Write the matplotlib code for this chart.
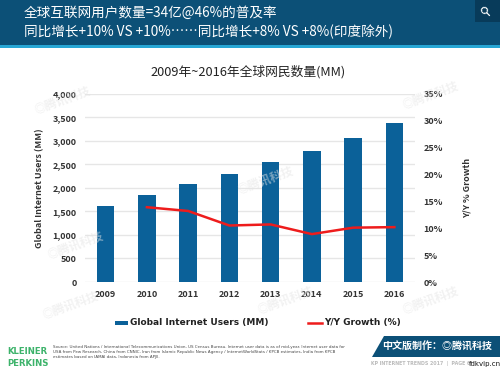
import matplotlib
matplotlib.use("Agg")
import matplotlib.pyplot as plt
from matplotlib.patches import Rectangle, Polygon
from matplotlib.lines import Line2D
import numpy as np

plt.rcParams['font.family'] = ['Noto Sans CJK SC', 'DejaVu Sans']

years = ['2009', '2010', '2011', '2012', '2013', '2014', '2015', '2016']
users = [1610, 1840, 2080, 2300, 2550, 2780, 3050, 3370]
growth_years = ['2010', '2011', '2012', '2013', '2014', '2015', '2016']
growth = [13.9, 13.2, 10.5, 10.7, 8.9, 10.1, 10.2]
yticks_left = [0, 500, 1000, 1500, 2000, 2500, 3000, 3500, 4000]
yticks_right = [0, 5, 10, 15, 20, 25, 30, 35]

header1 = '全球互联网用户数量=34亿@46%的普及率'
header2 = '同比增长+10% VS +10%……同比增长+8% VS +8%(印度除外)'
chart_title = '2009年~2016年全球网民数量(MM)'

W, H = 500, 370
fig = plt.figure(figsize=(5, 3.7), dpi=100)

def fx(x): return x / W
def fy(y): return 1 - y / H

# Header band
fig.patches.append(Rectangle((0, fy(45)), 1, 45 / H, transform=fig.transFigure,
                             facecolor='#0c5077', edgecolor='none', zorder=0))
fig.patches.append(Rectangle((0, fy(48)), 1, 3 / H, transform=fig.transFigure,
                             facecolor='#27a6d4', edgecolor='none', zorder=0))
fig.patches.append(Rectangle((fx(475), fy(22)), 25 / W, 22 / H, transform=fig.transFigure,
                             facecolor='#083b5a', edgecolor='none', zorder=1))
fig.text(fx(486), fy(11), '⚲', color='white', fontsize=9, ha='center', va='center',
         family='DejaVu Sans', fontweight='bold', rotation=45)
fig.text(fx(24), fy(13), header1, color='white', fontsize=9.8, ha='left', va='center')
fig.text(fx(24), fy(32), header2, color='white', fontsize=9.8, ha='left', va='center')

# Main axes
ax = fig.add_axes([fx(85), fy(282), 330 / W, (282 - 93.7) / H])
x = np.arange(len(years))
ax.bar(x, users, width=0.42, color='#0b6199', zorder=3)
ax.set_ylim(0, 4000)
ax.set_xlim(-0.5, len(years) - 0.5)
ax.set_yticks(yticks_left)
ax.set_yticklabels([f'{v:,}' for v in yticks_left])
ax.set_xticks(x)
ax.set_xticklabels(years)
ax.grid(axis='y', color='#e6e6e6', linewidth=1, zorder=0)
for s in ax.spines.values():
    s.set_visible(False)
ax.tick_params(length=0, labelsize=6.5, colors='#333333', pad=6)
for lab in ax.get_xticklabels() + ax.get_yticklabels():
    lab.set_fontweight('bold')
ax.set_ylabel('Global Internet Users (MM)', fontsize=6.5, fontweight='bold',
              color='#333333', labelpad=6)

ax2 = ax.twinx()
gx = [years.index(y) for y in growth_years]
ax2.plot(gx, growth, color='#ee1c1c', linewidth=1.8, zorder=4)
ax2.set_ylim(0, 35)
ax2.set_yticks(yticks_right)
ax2.set_yticklabels([f'{v}%' for v in yticks_right])
for s in ax2.spines.values():
    s.set_visible(False)
ax2.tick_params(length=0, labelsize=6.5, colors='#333333', pad=6)
for lab in ax2.get_yticklabels():
    lab.set_fontweight('bold')
ax2.set_ylabel('Y/Y % Growth', fontsize=6.5, fontweight='bold', color='#333333',
               rotation=90, labelpad=14)

fig.text(fx(248), fy(72), chart_title, fontsize=9.2, ha='center', va='center', color='#222222')

# Legend
fig.patches.append(Rectangle((fx(115), fy(325)), 13 / W, 4 / H, transform=fig.transFigure,
                             facecolor='#0b6199', edgecolor='none'))
fig.text(fx(130), fy(323), 'Global Internet Users (MM)', fontsize=6.5, fontweight='bold',
         ha='left', va='center', color='#222222', family='DejaVu Sans')
fig.lines.append(Line2D([fx(308), fx(322)], [fy(323), fy(323)], transform=fig.transFigure,
                        color='#ee1c1c', linewidth=1.8))
fig.text(fx(324), fy(323), 'Y/Y Growth (%)', fontsize=6.5, fontweight='bold',
         ha='left', va='center', color='#222222', family='DejaVu Sans')

# Watermarks
for (wx, wy) in [(62, 100), (265, 180), (75, 245), (70, 305), (430, 95), (430, 300), (285, 300)]:
    fig.text(fx(wx), fy(wy), '◎腾讯科技', fontsize=8.5, color='#e4e4e4', alpha=0.5,
             rotation=20, ha='center', va='center', fontweight='bold', zorder=0)

# Footer
fig.text(fx(7), fy(351), 'KLEINER', fontsize=6.8, color='#3db36b', fontweight='bold',
         ha='left', va='center', family='DejaVu Sans', fontstretch='condensed')
fig.text(fx(7), fy(363), 'PERKINS', fontsize=6.8, color='#3db36b', fontweight='bold',
         ha='left', va='center', family='DejaVu Sans', fontstretch='condensed')
src = ('Source: United Nations / International Telecommunications Union, US Census Bureau. Internet user data is as of mid-year. Internet user data for\n'
       'USA from Pew Research, China from CNNIC, Iran from Islamic Republic News Agency / InternetWorldStats / KPCB estimates, India from KPCB\n'
       'estimates based on IAMAI data, Indonesia from APJII.')
fig.text(fx(53), fy(352), src, fontsize=2.85, color='#444444', ha='left', va='center',
         family='DejaVu Sans', linespacing=1.2)
fig.patches.append(Polygon([(fx(384), fy(336)), (fx(500), fy(336)), (fx(500), fy(357)),
                            (fx(372), fy(357))], closed=True, transform=fig.transFigure,
                           facecolor='#0c5077', edgecolor='none'))
fig.text(fx(437), fy(346.5), '中文版制作：◎腾讯科技', fontsize=7.2, color='white',
         ha='center', va='center', fontweight='bold')
fig.text(fx(421), fy(364), 'KP INTERNET TRENDS 2017  |  PAGE 6', fontsize=3.4, color='#bbbbbb',
         ha='center', va='center', family='DejaVu Sans', fontweight='bold')
fig.text(fx(485), fy(364), 'fdkvip.cn', fontsize=5, color='#111111', ha='center', va='center',
         family='DejaVu Sans')

fig.savefig('out.png', dpi=100)
